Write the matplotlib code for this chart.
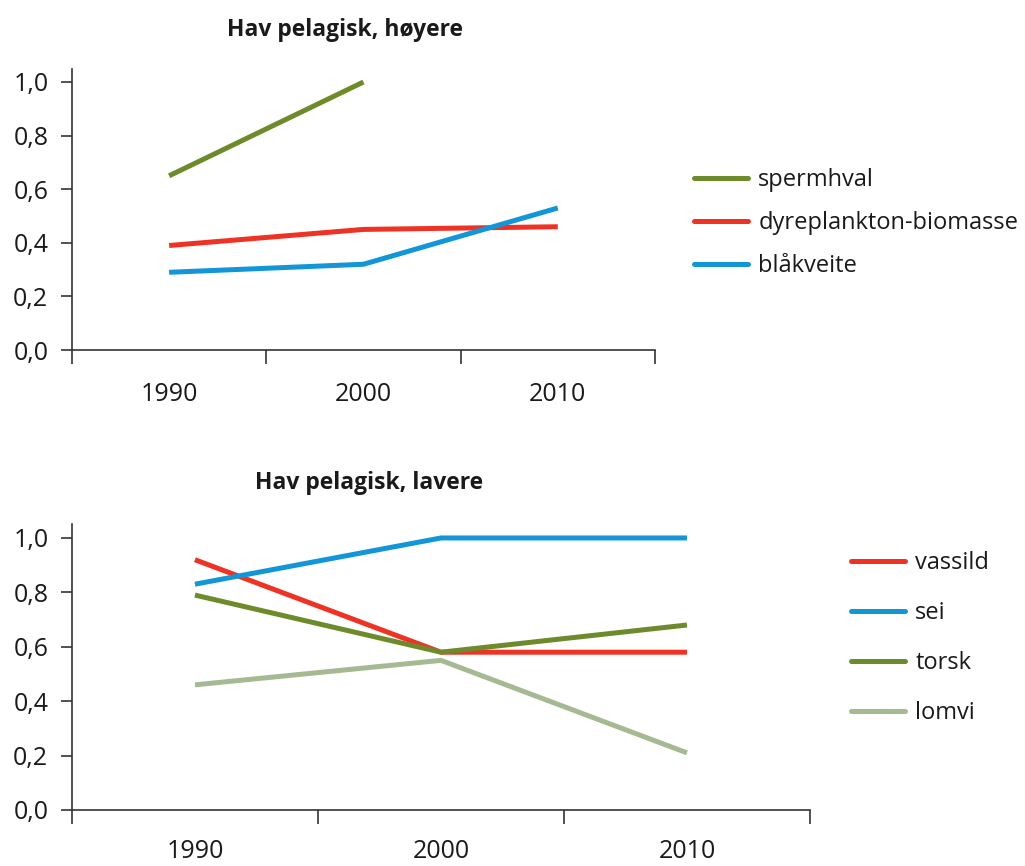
import matplotlib
matplotlib.use('Agg')
import matplotlib.pyplot as plt
import numpy as np

plt.rcParams['font.family'] = ['Open Sans', 'DejaVu Sans']

years = ['1990', '2000', '2010']
y_ticks = [0.0, 0.2, 0.4, 0.6, 0.8, 1.0]

# Hav pelagisk, høyere
upper_names = ['spermhval', 'dyreplankton-biomasse', 'blåkveite']
spermhval = [0.65, 1.00, np.nan]
dyreplankton = [0.39, 0.45, 0.46]
blaakveite = [0.29, 0.32, 0.53]

# Hav pelagisk, lavere
lower_names = ['vassild', 'sei', 'torsk', 'lomvi']
vassild = [0.92, 0.58, 0.58]
sei = [0.83, 1.00, 1.00]
torsk = [0.79, 0.58, 0.68]
lomvi = [0.46, 0.55, 0.21]

GREEN = '#6E8B2B'
RED = '#EE3325'
BLUE = '#1296D8'
PALE = '#A5B993'
AXIS = '#333333'
TEXT = '#1a1a1a'
FS = 18


def style_axis(ax, label_pad):
    n = len(years)
    x = np.arange(n)
    ax.set_xlim(-0.5, n - 0.5)
    ax.set_ylim(0, 1.05)
    ax.spines['top'].set_visible(False)
    ax.spines['right'].set_visible(False)
    for s in ('left', 'bottom'):
        ax.spines[s].set_color(AXIS)
        ax.spines[s].set_linewidth(1.2)
    # boundaries between categories as major ticks, labels as minor ticks
    ax.set_xticks(np.arange(n + 1) - 0.5)
    ax.set_xticklabels([])
    ax.set_xticks(x, minor=True)
    ax.set_xticklabels(years, minor=True, fontsize=FS, color=TEXT)
    ax.tick_params(axis='x', which='major', direction='out', length=10, width=1.2, color=AXIS)
    ax.tick_params(axis='x', which='minor', length=0, pad=label_pad)
    ax.set_yticks(y_ticks)
    ax.set_yticklabels([f'{v:.1f}'.replace('.', ',') for v in y_ticks], fontsize=FS, color=TEXT)
    ax.tick_params(axis='y', direction='out', length=8, width=1.2, color=AXIS, pad=9)


def add_legend(ax, x0, y0, spacing):
    leg = ax.legend(loc='upper left', bbox_to_anchor=(x0 / 1025, 1 - y0 / 866),
                    bbox_transform=fig.transFigure, frameon=False, fontsize=17,
                    handlelength=2.3, handletextpad=0.42, labelspacing=spacing,
                    borderpad=0, borderaxespad=0)
    for h in leg.get_lines():
        h.set_solid_capstyle('round')
    for t in leg.get_texts():
        t.set_color(TEXT)
    return leg


fig = plt.figure(figsize=(10.25, 8.66), dpi=100)
x = np.arange(len(years))
lw = 3.6

ax1 = fig.add_axes([0.0702, 0.5958, 0.5688, 0.325])
ax1.plot(x, spermhval, color=GREEN, lw=lw, solid_capstyle='butt', label=upper_names[0])
ax1.plot(x, dyreplankton, color=RED, lw=lw, solid_capstyle='butt', label=upper_names[1])
ax1.plot(x, blaakveite, color=BLUE, lw=lw, solid_capstyle='butt', label=upper_names[2])
style_axis(ax1, 23)
add_legend(ax1, 694, 168, 0.8)
fig.text(345 / 1025, 1 - 30 / 866, 'Hav pelagisk, høyere', ha='center', va='center',
         fontsize=16.5, fontweight='bold', color=TEXT)

ax2 = fig.add_axes([0.0702, 0.0647, 0.7200, 0.3298])
ax2.plot(x, vassild, color=RED, lw=lw, solid_capstyle='butt', label=lower_names[0])
ax2.plot(x, sei, color=BLUE, lw=lw, solid_capstyle='butt', label=lower_names[1])
ax2.plot(x, torsk, color=GREEN, lw=lw, solid_capstyle='butt', label=lower_names[2])
ax2.plot(x, lomvi, color=PALE, lw=lw, solid_capstyle='butt', label=lower_names[3])
style_axis(ax2, 21)
add_legend(ax2, 851, 551, 1.1)
fig.text(369 / 1025, 1 - 483 / 866, 'Hav pelagisk, lavere', ha='center', va='center',
         fontsize=16.5, fontweight='bold', color=TEXT)

fig.savefig('out.png', dpi=100)
